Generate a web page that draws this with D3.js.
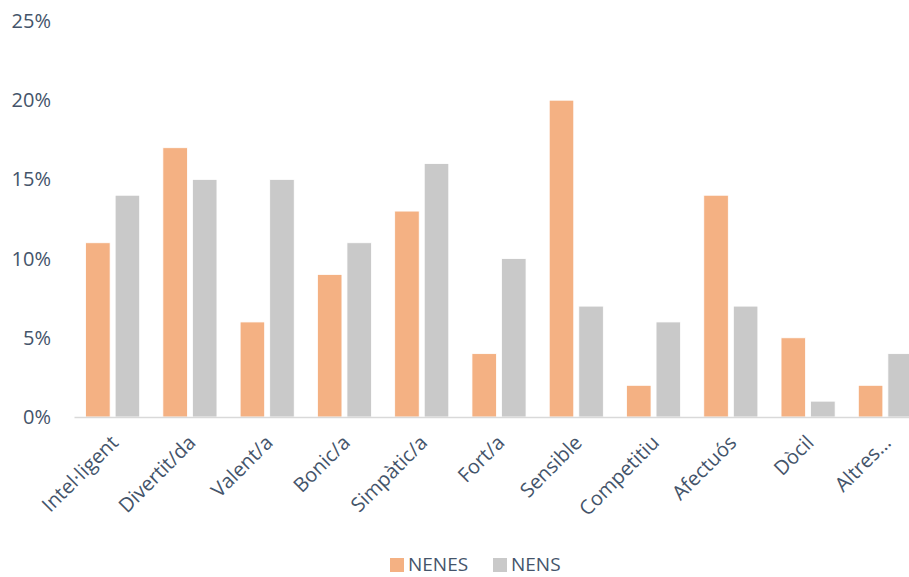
<!DOCTYPE html>
<html>
<head>
<meta charset="utf-8">
<script src="https://cdn.jsdelivr.net/npm/d3@7/dist/d3.min.js"></script>
<style>
  body { margin: 0; background: #fff; overflow: hidden; }
  svg { display: block; font-family: "Open Sans", sans-serif; }
  .tick text { fill: #44546a; }
</style>
</head>
<body>
<div class="svg-container"></div>
<script>
var categories = ['Intel·ligent', 'Divertit/da', 'Valent/a', 'Bonic/a', 'Simpàtic/a', 'Fort/a',
  'Sensible', 'Competitiu', 'Afectuós', 'Dòcil', 'Altres...'];
var nenes = [11, 17, 6, 9, 13, 4, 20, 2, 14, 5, 2];
var nens = [14, 15, 15, 11, 16, 10, 7, 6, 7, 1, 4];
var seriesNames = ['NENES', 'NENS'];
var yTicks = [0, 5, 10, 15, 20, 25];

var width = 909, height = 577;
var colors = ['#f4b183', '#c9c9c9'];

var data = categories.map(function(c, i) {
  return { cat: c, values: [nenes[i], nens[i]] };
});

var svg = d3.select('.svg-container')
  .append('svg')
  .attr('width', width)
  .attr('height', height);

var xScale = d3.scaleBand()
  .domain(categories)
  .range([74, 924])
  .paddingInner(0.3)
  .paddingOuter(0.15);

var xInner = d3.scaleBand()
  .domain([0, 1])
  .range([0, xScale.bandwidth()])
  .paddingInner(0.17);

var yScale = d3.scaleLinear()
  .domain([0, 25])
  .range([417, 21]);

// bars
var groups = svg.append('g')
  .selectAll('g')
  .data(data)
  .enter()
  .append('g')
  .attr('transform', function(d) { return 'translate(' + xScale(d.cat) + ',0)'; });

groups.selectAll('rect')
  .data(function(d) { return d.values; })
  .enter()
  .append('rect')
  .attr('x', function(d, i) { return xInner(i); })
  .attr('width', xInner.bandwidth())
  .attr('y', function(d) { return yScale(d); })
  .attr('height', function(d) { return yScale(0) - yScale(d); })
  .attr('fill', function(d, i) { return colors[i]; })
  .attr('stroke', '#fff')
  .attr('stroke-width', 0.8);

// y axis (labels only)
var yAxis = d3.axisLeft(yScale)
  .tickValues(yTicks)
  .tickFormat(function(d) { return d + '%'; })
  .tickSize(0)
  .tickPadding(0);

svg.append('g')
  .attr('transform', 'translate(51,0)')
  .call(yAxis)
  .call(function(g) { g.select('.domain').remove(); })
  .selectAll('text')
  .attr('font-size', 20)
  .attr('font-family', '"Open Sans", sans-serif');

// x axis
var xAxis = d3.axisBottom(xScale).tickSize(0).tickPadding(0);

var xg = svg.append('g')
  .attr('transform', 'translate(0,' + yScale(0) + ')')
  .call(xAxis);

xg.select('.domain')
  .attr('stroke', '#d9d9d9')
  .attr('stroke-width', 1.5);

xg.selectAll('text')
  .attr('font-size', 20)
  .attr('font-family', '"Open Sans", sans-serif')
  .attr('text-anchor', 'end')
  .attr('dy', '0.35em')
  .attr('transform', 'translate(2,22) rotate(-45)');

// legend
var legend = svg.append('g');
var legendX = [390, 493];
seriesNames.forEach(function(name, i) {
  legend.append('rect')
    .attr('x', legendX[i])
    .attr('y', 558)
    .attr('width', 14)
    .attr('height', 14)
    .attr('fill', colors[i]);
  legend.append('text')
    .attr('x', legendX[i] + 18)
    .attr('y', 571)
    .attr('font-size', 19)
    .attr('fill', '#44546a')
    .text(name);
});
</script>
</body>
</html>
